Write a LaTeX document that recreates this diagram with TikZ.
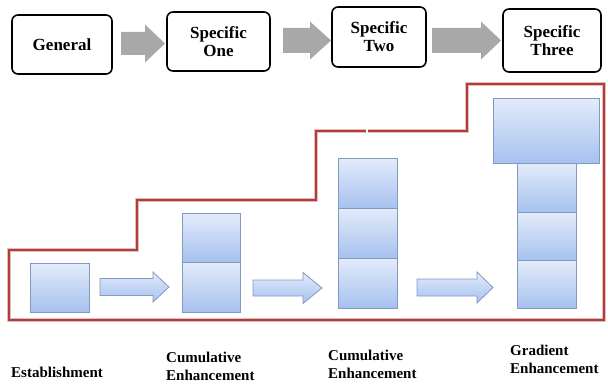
\documentclass[tikz,border=0pt]{standalone}
\usepackage{fontspec}
\setmainfont{Liberation Serif}
\definecolor{arrowgray}{HTML}{A8A8A8}
\definecolor{celltop}{HTML}{E2EBFA}
\definecolor{cellbot}{HTML}{A6C1EF}
\definecolor{celledge}{HTML}{8399BD}
\definecolor{framered}{HTML}{B03C3C}
\definecolor{framehalo}{HTML}{E9BCBC}
% block arrow: style, x start, x tip, x head start, centre y, body half height, head half height
\newcommand\blockarrow[7]{%
  \path[#1] (#2,#5-#6) -- (#4,#5-#6) -- (#4,#5-#7) -- (#3,#5)
    -- (#4,#5+#7) -- (#4,#5+#6) -- (#2,#5+#6) -- cycle;}
\begin{document}
\begin{tikzpicture}[x=1pt,y=-1pt,
  stage/.style={draw=black, line width=1.6pt, rounded corners=6pt, fill=white,
    align=center, inner sep=0pt, font=\fontsize{17}{18}\selectfont\bfseries},
  cell/.style={draw=celledge, line width=0.9pt, top color=celltop, bottom color=cellbot,
    inner sep=0pt, anchor=north west},
  grayarrow/.style={fill=arrowgray},
  bluearrow/.style={draw=celledge, line width=0.8pt, top color=celltop, bottom color=cellbot},
  label/.style={inner sep=0pt, anchor=base west, align=left,
    font=\fontsize{15}{18}\selectfont\bfseries}
]
\useasboundingbox (0,0) rectangle (608,385);

% top row of stages
\node[stage, minimum width=100pt, minimum height=59pt] (gen)   at (62,44.5)  {General};
\node[stage, minimum width=103pt, minimum height=59pt] (one)   at (218.5,41.5) {Specific\\One};
\node[stage, minimum width=94pt,  minimum height=60pt] (two)   at (379,37)   {Specific\\Two};
\node[stage, minimum width=98pt,  minimum height=63pt] (three) at (552,40.5) {Specific\\Three};

\blockarrow{grayarrow}{121}{165}{145}{43.5}{11.5}{19}
\blockarrow{grayarrow}{283}{331}{310}{40.5}{12.5}{19}
\blockarrow{grayarrow}{432}{501}{481}{40.5}{12.5}{19}

% stepped frame
\draw[framehalo, line width=4.6pt, line join=miter]
  (9,250) -- (137,250) -- (137,200) -- (316,200) -- (316,131) -- (467,131)
  -- (467,84) -- (604,84) -- (604,320) -- (9,320) -- cycle;
\draw[framered, line width=2.2pt, line join=miter]
  (9,250) -- (137,250) -- (137,200) -- (316,200) -- (316,131) -- (467,131)
  -- (467,84) -- (604,84) -- (604,320) -- (9,320) -- cycle;
\fill[white] (365.5,127) rectangle (367.5,135);

% stacks of cells
\node[cell, minimum width=59pt, minimum height=49pt] (a1) at (30,263) {};

\node[cell, minimum width=58pt, minimum height=49pt] (b2) at (182,213) {};
\node[cell, minimum width=58pt, minimum height=50pt] (b1) at (182,262) {};

\node[cell, minimum width=59pt, minimum height=50pt] (c3) at (338,158) {};
\node[cell, minimum width=59pt, minimum height=50pt] (c2) at (338,208) {};
\node[cell, minimum width=59pt, minimum height=50pt] (c1) at (338,258) {};

\node[cell, minimum width=106pt, minimum height=65pt] (d4) at (493,98) {};
\node[cell, minimum width=59pt, minimum height=49pt] (d3) at (517,163) {};
\node[cell, minimum width=59pt, minimum height=48pt] (d2) at (517,212) {};
\node[cell, minimum width=59pt, minimum height=48pt] (d1) at (517,260) {};

\blockarrow{bluearrow}{100}{169}{153}{287}{8.5}{15}
\blockarrow{bluearrow}{253}{322}{303}{288}{8}{15.5}
\blockarrow{bluearrow}{417}{493}{477}{287.5}{8.5}{15.5}

% stage labels (base anchor sits on the last line)
\node[label] (l1) at (11,377)  {Establishment};
\node[label] (l2) at (166,380) {Cumulative\\Enhancement};
\node[label] (l3) at (328,378) {Cumulative\\Enhancement};
\node[label] (l4) at (510,373) {Gradient\\Enhancement};
\end{tikzpicture}
\end{document}
